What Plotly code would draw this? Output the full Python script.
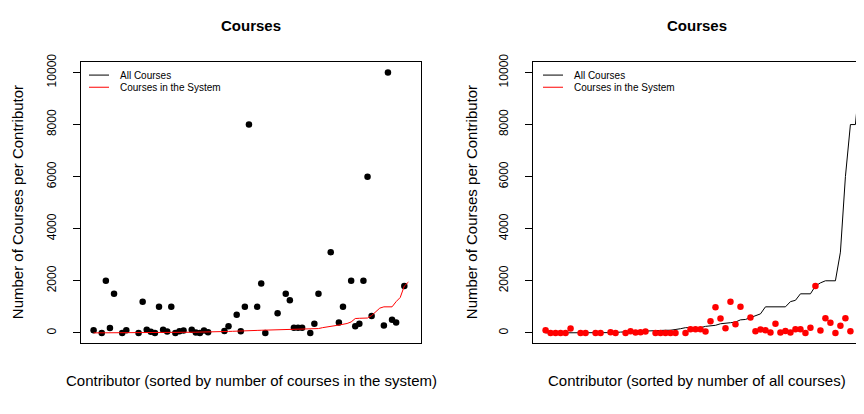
import plotly.graph_objects as go

# ---- data ----
# Left panel: contributors sorted by number of courses in the system (78 contributors)
left_all_courses = [100, None, 0, 2000, 190, 1500, None, 0, 100, None,
                    None, 0, 1200, 120, 40, 0, 1000, 120, 50, 1000,
                    0, 60, 90, None, 120, 10, 0, 90, 25, None,
                    None, None, 75, 250, None, 700, 60, 1000, 8000, None,
                    1000, 1900, 0, None, None, 750, None, 1500, 1250, 200,
                    200, 200, None, 0, 350, 1500, None, None, 3100, None,
                    400, 1000, None, 2000, 250, 350, 2000, 6000, 650, None,
                    None, 280, 10000, 500, 400, None, 1800, None]
left_system_courses = [0, 0, 0, 0, 0, 0, 0, 0, 5, 5,
                       5, 5, 5, 10, 10, 10, 10, 15, 15, 15,
                       20, 20, 20, 25, 25, 25, 30, 30, 30, 35,
                       40, 45, 50, 55, 60, 70, 75, 80, 85, 90,
                       95, 100, 105, 110, 115, 120, 125, 130, 135, 140,
                       145, 150, 155, 160, 160, 165, 200, 220, 240, 270,
                       300, 330, 360, 420, 550, 560, 565, 570, 665, 815,
                       950, 1000, 1000, 1000, 1200, 1360, 1800, 1950]

# Right panel: contributors sorted by number of all courses (64 contributors)
right_all_courses = [0, 0, 0, 0, 0, 0, 0, 0, 0, 5,
                     5, 10, 10, 10, 10, 30, 40, 50, 50, 60,
                     70, 80, 90, 100, 100, 100, 120, 160, 200, 200,
                     200, 200, 250, 260, 290, 350, 360, 390, 415, 500,
                     515, 590, 665, 730, 1000, 1000, 1000, 1000, 1000, 1200,
                     1250, 1500, 1500, 1500, 1800, 1920, 2000, 2000, 2000, 3100,
                     6000, 8000, 8000, 10000]
right_system_courses = [100, 0, 0, 0, 0, 165, None, 0, 0, None,
                        0, 0, None, 25, 0, None, 0, 60, 10, 25,
                        50, None, 0, 0, 0, 0, 0, None, 0, 140,
                        140, 140, 50, 450, 980, 550, 175, 1200, 330, 1000,
                        None, 590, 60, 125, 100, 10, 350, 10, 75, 10,
                        140, 140, 0, 200, 1800, 90, 565, 390, 0, 275,
                        565, 60, None, 1000]

y_ticks = [0, 2000, 4000, 6000, 8000, 10000]
y_tick_labels = ["0", "2000", "4000", "6000", "8000", "10000"]
panel_title = "Courses"
y_title = "Number of Courses per Contributor"
x_title_left = "Contributor (sorted by number of courses in the system)"
x_title_right = "Contributor (sorted by number of all courses)"
legend_labels = ["All Courses", "Courses in the System"]

FONT = "Liberation Sans, Arial, Helvetica, sans-serif"
# the page body has an 8 px margin; positions below are page pixels
OFF = 8
PAGE_W = 864
W, H = PAGE_W - OFF, 398

x_left = list(range(1, len(left_all_courses) + 1))
x_right = list(range(1, len(right_all_courses) + 1))

fig = go.Figure()
fig.add_trace(go.Scatter(x=x_left, y=left_all_courses, mode="markers",
                         marker=dict(color="black", size=6.5), xaxis="x", yaxis="y",
                         showlegend=False))
fig.add_trace(go.Scatter(x=x_left, y=left_system_courses, mode="lines",
                         line=dict(color="#ff0000", width=1), xaxis="x", yaxis="y",
                         showlegend=False))
fig.add_trace(go.Scatter(x=x_right, y=right_all_courses, mode="lines",
                         line=dict(color="black", width=1), xaxis="x2", yaxis="y2",
                         showlegend=False))
fig.add_trace(go.Scatter(x=x_right, y=right_system_courses, mode="markers",
                         marker=dict(color="#ff0000", size=6.5), xaxis="x2", yaxis="y2",
                         showlegend=False, cliponaxis=False))

def px(x):
    return (x - OFF) / W

def py(y):
    return (H - (y - OFF)) / H

ydom = [py(342), py(55)]
nl = len(x_left) - 1
nr = len(x_right) - 1
pad_l = 0.04 * nl
pad_r = 0.04 * nr
# the right panel is cut by the page edge (its full box would end near 873 px)
right_unit = 340 / (nr + 2 * pad_r)
right_max = 1 - pad_r + (PAGE_W - 533) / right_unit

common_x = dict(showline=True, mirror=True, linecolor="black", linewidth=1,
                showgrid=False, zeroline=False, showticklabels=False, ticks="")
common_y = dict(range=[-400, 10400], tickvals=y_ticks, ticktext=y_tick_labels,
                ticks="outside", ticklen=7, tickcolor="black", tickwidth=1,
                tickangle=-90, showline=True, linecolor="black", linewidth=1,
                showgrid=False, zeroline=False, ticklabelstandoff=12,
                tickfont=dict(family=FONT, size=12, color="black"))

fig.update_layout(
    width=W, height=H, autosize=False,
    margin=dict(l=0, r=0, t=0, b=0),
    paper_bgcolor="white", plot_bgcolor="white",
    xaxis=dict(domain=[px(81), px(421)], range=[1 - pad_l, len(x_left) + pad_l],
               anchor="y", **common_x),
    yaxis=dict(domain=ydom, anchor="x", mirror=True, **common_y),
    xaxis2=dict(domain=[px(533), 1.0], range=[1 - pad_r, right_max],
                anchor="y2", **common_x),
    yaxis2=dict(domain=ydom, anchor="x2", mirror=False, **common_y),
    showlegend=False,
)

ann = []
shapes = []
for cx, xt in [(251, x_title_left), (697, x_title_right)]:
    ann.append(dict(x=px(cx), y=py(18), xref="paper", yref="paper", text="<b>%s</b>" % panel_title,
                    showarrow=False, xanchor="center", yanchor="middle",
                    font=dict(family=FONT, size=15, color="black")))
    ann.append(dict(x=px(cx), y=py(380), xref="paper", yref="paper", text=xt,
                    showarrow=False, xanchor="center", yanchor="middle",
                    font=dict(family=FONT, size=15, color="black")))
for yx in [17, 471]:
    ann.append(dict(x=px(yx), y=py(198), xref="paper", yref="paper", text=y_title,
                    showarrow=False, xanchor="center", yanchor="middle", textangle=-90,
                    font=dict(family=FONT, size=15, color="black")))
# legends (R style, no box)
for lx in [89, 543]:
    for row, (lab, col) in enumerate(zip(legend_labels, ["black", "#ff0000"])):
        yy = 68.3 + row * 12.4
        shapes.append(dict(type="line", xref="paper", yref="paper",
                           x0=px(lx), x1=px(lx + 20), y0=py(yy), y1=py(yy),
                           line=dict(color=col, width=1)))
        ann.append(dict(x=px(lx + 29), y=py(yy), xref="paper", yref="paper", text=lab,
                        showarrow=False, xanchor="left", yanchor="middle",
                        font=dict(family=FONT, size=10, color="black")))

fig.update_layout(annotations=ann, shapes=shapes)
fig.write_html("out.html")
